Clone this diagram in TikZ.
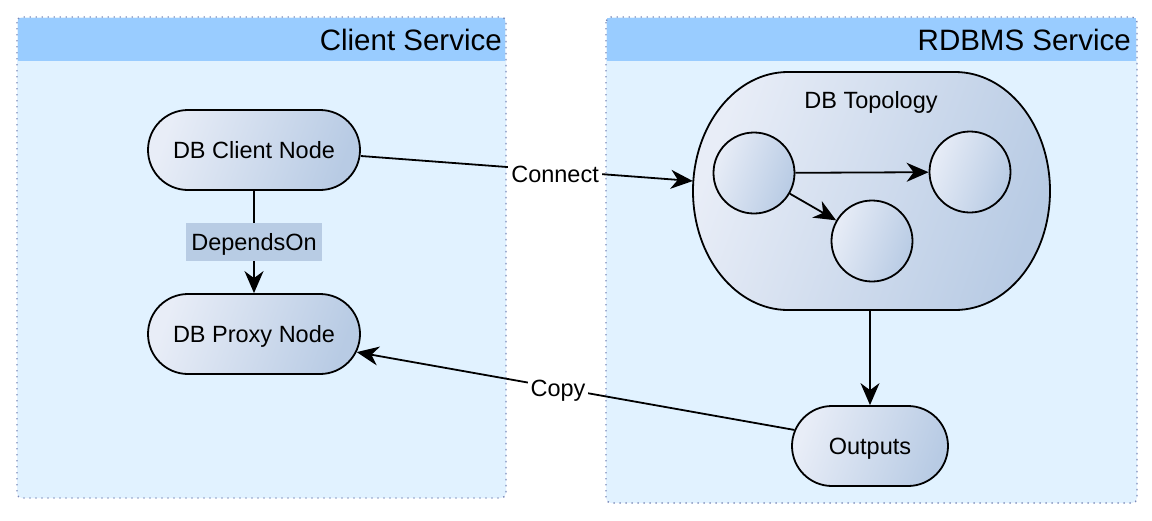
\documentclass[tikz,border=0pt]{standalone}
\usepackage{fontspec}
\setmainfont{Liberation Sans}
\usetikzlibrary{arrows.meta,shapes.misc,calc}
\definecolor{hdr}{HTML}{99CCFF}
\definecolor{body}{HTML}{E1F2FF}
\definecolor{brd}{HTML}{7A88B8}
\definecolor{gA}{HTML}{E8EDF7}
\definecolor{gB}{HTML}{B8CBE4}
\definecolor{lbl}{HTML}{B8CCE4}
\tikzset{
  container/.style={fill=body, rounded corners=5pt},
  frame/.style={draw=brd, line width=1.4pt, dash pattern=on 1.4pt off 4.6pt, rounded corners=5pt},
  header/.style={fill=hdr},
  title/.style={font=\fontsize{29.5}{34}\selectfont, anchor=east, inner sep=0pt},
  txt/.style={font=\fontsize{23.5}{28}\selectfont, text height=17pt, text depth=0pt},
  grad/.style={left color=gA, right color=gB, shading angle=70},
  pill/.style={rounded rectangle, draw=black, line width=1.8pt, grad, txt, minimum height=80pt, inner sep=0pt},
  topobox/.style={rectangle, minimum width=357pt, minimum height=238pt, inner sep=0pt},
  topoline/.style={draw=black, line width=1.8pt, grad},
  circ/.style={circle, draw=black, line width=1.8pt, grad, minimum size=81pt, inner sep=0pt},
  conn/.style={line width=1.8pt, -{Stealth[length=22pt,width=19pt,inset=7pt]}},
  edgelbl/.style={txt, fill=white, inner xsep=3pt, inner ysep=4pt},
  deplbl/.style={txt, fill=lbl, minimum width=136pt, minimum height=38pt, inner sep=0pt},
}
\begin{document}
\begin{tikzpicture}[x=1pt,y=-1pt]
\useasboundingbox (0,0) rectangle (1152,520);
% containers
\path[container] (17,17) rectangle (506,498);
\fill[header] (18,18) rectangle (505,61);
\path[frame] (17,17) rectangle (506,498);
\node[title] (t1) at (502,40) {Client Service};
\path[container] (606,17) rectangle (1137,503);
\fill[header] (607,18) rectangle (1136,61);
\path[frame] (606,17) rectangle (1137,503);
\node[title] (t2) at (1131,40) {RDBMS Service};
% nodes
\node[pill, minimum width=212pt] (client) at (254,150) {DB Client Node};
\node[pill, minimum width=212pt] (proxy) at (254,334) {DB Proxy Node};
\node[topobox] (topo) at (871.5,191) {};
\path[topoline] (788,72) -- (955,72)
  arc[start angle=-90, end angle=0, x radius=95, y radius=119]
  arc[start angle=0, end angle=90, x radius=95, y radius=119]
  -- (788,310)
  arc[start angle=90, end angle=180, x radius=95, y radius=119]
  arc[start angle=180, end angle=270, x radius=95, y radius=119]
  -- cycle;
\node[txt] (topolbl) at (871,100) {DB Topology};
\node[circ] (c1) at (754,173) {};
\node[circ] (c2) at (970,172) {};
\node[circ] (c3) at (872,241) {};
\node[pill, minimum width=156pt] (out) at (870,446) {Outputs};
% connectors
\draw[conn] (client.south) -- node[deplbl] (dep) {DependsOn} (proxy.north);
\draw[conn] ([yshift=-6pt]client.east) -- node[edgelbl, pos=0.585, yshift=-3pt] (lc) {Connect} ([yshift=10pt]topo.west);
\draw[conn] (c1) -- (c2);
\draw[conn] (c1) -- (c3);
\draw[conn, line width=1.4pt] (topo.south -| out.north) -- (out.north);
\draw[conn] (out.168) -- node[edgelbl, pos=0.54] (lcp) {Copy} (proxy.-10);
\end{tikzpicture}
\end{document}
